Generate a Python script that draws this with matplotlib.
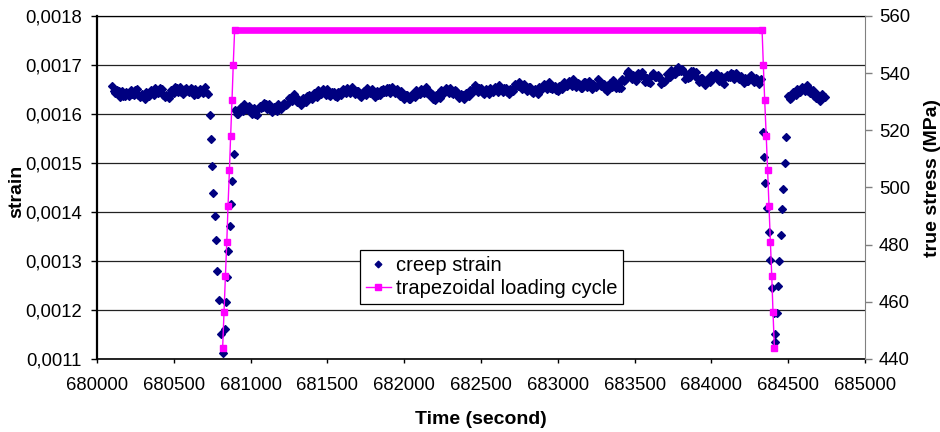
import matplotlib
matplotlib.use("Agg")
import matplotlib.pyplot as plt
from matplotlib.ticker import FuncFormatter, MultipleLocator
import numpy as np

plt.rcParams["font.family"] = ["Liberation Sans", "DejaVu Sans"]

# ── Data ─────────────────────────────────────────────────────────────────────
# creep strain in 1e-6 units; the three hold periods are regularly sampled
HOLD1_START, HOLD1_STEP = 680100, 10
hold1_strain = [
    1657, 1646, 1642, 1649, 1646, 1635, 1647, 1637, 1636, 1645,
    1642, 1636, 1649, 1640, 1639, 1649, 1651, 1639, 1634, 1641,
    1637, 1630, 1644, 1638, 1637, 1648, 1645, 1639, 1653, 1644,
    1643, 1653, 1651, 1639, 1634, 1639, 1639, 1632, 1648, 1642,
    1643, 1655, 1653, 1645, 1656, 1645, 1641, 1651, 1653, 1646,
    1645, 1654, 1651, 1639, 1650, 1640, 1640, 1650, 1648, 1643,
    1655, 1644, 1641,
]

HOLD2_START, HOLD2_STEP = 680900, 10
hold2_strain = [
    1608, 1601, 1601, 1613, 1614, 1606, 1620, 1611, 1608, 1616, 1610, 1601, 1612, 1601, 1597, 1611, 1616, 1612, 1614, 1623,
    1621, 1610, 1620, 1610, 1605, 1615, 1611, 1606, 1621, 1612, 1610, 1621, 1623, 1618, 1620, 1632, 1633, 1626, 1641, 1630,
    1625, 1631, 1624, 1619, 1633, 1625, 1625, 1636, 1639, 1632, 1631, 1642, 1643, 1635, 1649, 1642, 1641, 1650, 1646, 1638,
    1650, 1639, 1636, 1644, 1644, 1636, 1635, 1645, 1645, 1638, 1652, 1645, 1643, 1653, 1649, 1643, 1656, 1644, 1640, 1647,
    1646, 1637, 1634, 1645, 1646, 1639, 1654, 1645, 1642, 1650, 1644, 1635, 1646, 1638, 1638, 1649, 1652, 1645, 1645, 1654,
    1653, 1643, 1655, 1646, 1643, 1651, 1645, 1636, 1647, 1635, 1630, 1638, 1638, 1631, 1630, 1641, 1641, 1634, 1648, 1641,
    1640, 1650, 1647, 1642, 1656, 1643, 1638, 1644, 1641, 1631, 1628, 1639, 1640, 1633, 1648, 1642, 1642, 1653, 1650, 1642,
    1654, 1643, 1640, 1648, 1647, 1637, 1633, 1641, 1639, 1630, 1642, 1637, 1637, 1649, 1648, 1644, 1659, 1648, 1645, 1653,
    1653, 1643, 1640, 1650, 1649, 1641, 1654, 1647, 1645, 1655, 1651, 1645, 1659, 1648, 1645, 1653, 1653, 1644, 1641, 1652,
    1652, 1646, 1662, 1657, 1658, 1666, 1660, 1651, 1662, 1651, 1647, 1655, 1655, 1645, 1642, 1650, 1648, 1641, 1656, 1651,
    1651, 1662, 1659, 1652, 1665, 1654, 1650, 1658, 1658, 1649, 1647, 1658, 1658, 1651, 1665, 1658, 1657, 1667, 1664, 1658,
    1672, 1660, 1656, 1663, 1662, 1654, 1653, 1665, 1666, 1656, 1668, 1657, 1652, 1661, 1657, 1655, 1672, 1661, 1657, 1663,
    1661, 1650, 1646, 1660, 1663, 1656, 1670, 1659, 1654, 1661, 1654, 1653, 1671, 1667, 1670, 1683, 1688, 1677, 1672, 1679,
    1675, 1668, 1683, 1678, 1678, 1685, 1678, 1666, 1674, 1665, 1663, 1677, 1683, 1676, 1675, 1679, 1673, 1661, 1670, 1666,
    1668, 1681, 1681, 1676, 1690, 1682, 1681, 1692, 1695, 1688, 1688, 1692, 1685, 1671, 1679, 1674, 1675, 1688, 1687, 1677,
    1686, 1672, 1666, 1674, 1673, 1663, 1660, 1671, 1671, 1665, 1680, 1675, 1675, 1683, 1677, 1668, 1678, 1666, 1662, 1675,
    1680, 1675, 1676, 1684, 1682, 1672, 1684, 1675, 1671, 1678, 1672, 1663, 1674, 1667, 1667, 1678, 1680, 1670, 1666, 1674,
    1671, 1661, 1672,
]

HOLD3_START, HOLD3_STEP = 684500, 10
hold3_strain = [
    1637, 1631, 1632, 1644, 1645, 1638, 1652, 1646, 1645, 1655,
    1652, 1646, 1659, 1647, 1643, 1649, 1648, 1637, 1633, 1640,
    1637, 1627, 1641, 1635, 1635,
]

# transitions between holds (time, strain 1e-6)
drop1_time = [680734, 680740, 680749, 680757, 680766, 680775, 680783, 680794, 680805, 680818]
drop1_strain = [1597, 1549, 1494, 1439, 1392, 1343, 1279, 1221, 1152, 1112]
rise1_time = [680831, 680838, 680846, 680855, 680864, 680872, 680881, 680890]
rise1_strain = [1161, 1217, 1268, 1321, 1371, 1416, 1464, 1518]
drop2_time = [684334, 684342, 684351, 684362, 684373, 684383, 684393, 684406, 684411, 684414]
drop2_strain = [1563, 1512, 1459, 1409, 1359, 1303, 1245, 1193, 1152, 1135]
rise2_time = [684425, 684434, 684442, 684451, 684460, 684468, 684477, 684488]
rise2_strain = [1193, 1248, 1300, 1354, 1406, 1446, 1501, 1553]

# trapezoidal loading cycle (time, true stress MPa)
load_time = [680818, 680827, 680836, 680845, 680853, 680862, 680870, 680879, 680887, 680896,
             684330, 684338, 684347, 684357, 684366, 684375, 684384, 684393, 684401, 684410]
load_stress = [444, 456.5, 469, 481, 493.5, 506, 518, 530.5, 543, 555,
               555, 543, 530.5, 518, 506, 493.5, 481, 469, 456.5, 444]
plateau_time = [680896, 684330]
plateau_stress = [555, 555]


def hold_times(start, step, values):
    return start + step * np.arange(len(values))


def main():
    navy = "#000080"
    magenta = "#FF00FF"

    t = np.concatenate([
        hold_times(HOLD1_START, HOLD1_STEP, hold1_strain), drop1_time, rise1_time,
        hold_times(HOLD2_START, HOLD2_STEP, hold2_strain), drop2_time, rise2_time,
        hold_times(HOLD3_START, HOLD3_STEP, hold3_strain),
    ])
    eps = np.concatenate([
        hold1_strain, drop1_strain, rise1_strain,
        hold2_strain, drop2_strain, rise2_strain, hold3_strain,
    ]) * 1e-6

    fig = plt.figure(figsize=(9.4, 4.32), dpi=100)
    ax = fig.add_axes([97 / 940, 73 / 432, 768 / 940, 343 / 432])
    ax2 = ax.twinx()

    ax.set_axisbelow(True)
    ax.grid(axis="y", color="#222222", lw=0.9)
    h1, = ax.plot(t, eps, "D", color=navy, ms=4.3, mec=navy, mew=0.9,
                  ls="none", label="creep strain")

    h2, = ax2.plot(load_time, load_stress, "-s", color=magenta, lw=1.0, ms=4.8,
                   mec=magenta, label="trapezoidal loading cycle")
    ax2.plot(plateau_time, plateau_stress, "-", color=magenta, lw=4.8,
             solid_capstyle="projecting")

    ax.set_xlim(680000, 685000)
    ax.set_ylim(0.0011, 0.0018)
    ax2.set_ylim(440, 560)
    ax.xaxis.set_major_locator(MultipleLocator(500))
    ax.yaxis.set_major_locator(MultipleLocator(0.0001))
    ax2.yaxis.set_major_locator(MultipleLocator(20))
    ax.yaxis.set_major_formatter(FuncFormatter(lambda v, p: f"{v:.4f}".replace(".", ",")))
    ax.xaxis.set_major_formatter(FuncFormatter(lambda v, p: f"{v:.0f}"))

    ax.tick_params(axis="y", direction="out", length=4, width=1, labelsize=13.3, pad=7)
    ax.tick_params(axis="x", direction="out", length=3, width=1, labelsize=13.3, pad=10)
    ax2.tick_params(axis="y", direction="out", length=5, width=1, labelsize=13.3,
                    pad=5, color="#808080")

    ax.spines["right"].set_visible(False)
    for side in ("left", "top", "bottom"):
        ax2.spines[side].set_visible(False)
    ax.spines["left"].set_linewidth(1.6)
    ax.spines["bottom"].set_linewidth(1.2)
    ax.spines["top"].set_linewidth(0.9)
    ax2.spines["right"].set_color("#808080")

    ax.set_ylabel("strain", fontsize=14, fontweight="bold")
    ax.yaxis.set_label_coords(-0.094, 0.49)
    ax.set_xlabel("Time (second)", fontsize=14, fontweight="bold")
    ax.xaxis.set_label_coords(0.5, -0.151)
    ax2.set_ylabel("true stress (MPa)", fontsize=14, fontweight="bold")
    ax2.yaxis.set_label_coords(1.0768, 0.528)

    leg = ax2.legend([h1, h2], ["creep strain", "trapezoidal loading cycle"],
                     loc="center", bbox_to_anchor=(0.514, 0.239), fontsize=14.5,
                     frameon=True, fancybox=False, framealpha=1, edgecolor="black",
                     handlelength=1.2, handletextpad=0.25, borderpad=0.3,
                     borderaxespad=0, labelspacing=0.2, markerscale=0.8)
    leg.get_frame().set_linewidth(0.9)

    fig.savefig("out.png", dpi=100)
    plt.close(fig)


if __name__ == "__main__":
    main()
